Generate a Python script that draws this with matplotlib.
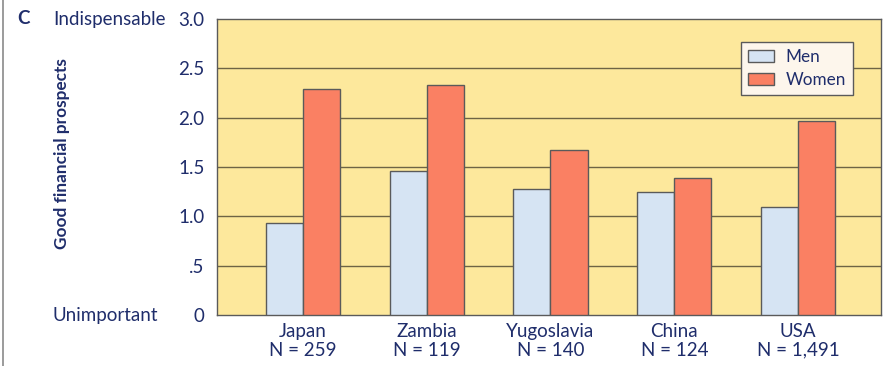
import matplotlib
matplotlib.use("Agg")
import matplotlib.pyplot as plt
import numpy as np

plt.rcParams['font.family'] = ['Lato', 'DejaVu Sans']

# Mean ratings per country (0 = unimportant, 3 = indispensable)
countries = ["Japan", "Zambia", "Yugoslavia", "China", "USA"]
sample_sizes = ["259", "119", "140", "124", "1,491"]
men = [0.93, 1.46, 1.28, 1.25, 1.09]
women = [2.29, 2.33, 1.67, 1.39, 1.97]
yticks = [0, 0.5, 1.0, 1.5, 2.0, 2.5, 3.0]
ytick_labels = ["0", ".5", "1.0", "1.5", "2.0", "2.5", "3.0"]

navy = "#1f2d6b"
edge = "#5a5a5a"
fs = 13.5

fig = plt.figure(figsize=(8.85, 3.66), dpi=100)
ax = fig.add_axes([0.2452, 0.1393, 0.7503, 0.8087])
ax.set_facecolor("#fde89c")

x = np.arange(len(countries))
w = 0.30
ax.bar(x - w / 2, men, w, color="#d6e4f3", edgecolor=edge, linewidth=1.0,
       label="Men", zorder=3)
ax.bar(x + w / 2, women, w, color="#fa8063", edgecolor=edge, linewidth=1.0,
       label="Women", zorder=3)

# horizontal guide lines behind the bars
for yv in yticks[1:-1]:
    ax.axhline(yv, color="#6e6445", linewidth=1.0, zorder=1)

ax.set_xlim(-0.694, 4.67)
ax.set_ylim(0, 3.0)
ax.set_yticks(yticks)
ax.set_yticklabels(ytick_labels)
ax.set_xticks(x)
ax.set_xticklabels([f"{c}\nN = {n}" for c, n in zip(countries, sample_sizes)],
                   linespacing=1.1)
ax.tick_params(axis="both", length=0, labelsize=fs, labelcolor=navy)
ax.tick_params(axis="y", pad=9)
ax.tick_params(axis="x", pad=6)
for s in ax.spines.values():
    s.set_color(edge)
    s.set_linewidth(1.0)

leg = ax.legend(loc="upper right", bbox_to_anchor=(0.958, 0.922),
                borderaxespad=0, fontsize=12.3, frameon=True, fancybox=False,
                handlelength=1.5, handleheight=0.7, borderpad=0.42,
                labelspacing=0.4, handletextpad=0.7)
leg.get_frame().set_facecolor("#fdf6ec")
leg.get_frame().set_edgecolor(edge)
leg.get_frame().set_alpha(1)
for t in leg.get_texts():
    t.set_color(navy)

fig.text(17 / 885, 1 - 19 / 366, "C", fontsize=fs, fontweight="bold",
         color=navy, ha="left", va="center")
fig.text(53 / 885, 1 - 19 / 366, "Indispensable", fontsize=fs,
         color=navy, ha="left", va="center")
fig.text(53 / 885, 1 - 316 / 366, "Unimportant", fontsize=fs,
         color=navy, ha="left", va="center")
fig.text(62 / 885, 1 - 154 / 366, "Good financial prospects", fontsize=12.4,
         fontweight="bold", color=navy, rotation=90, ha="center", va="center")

# thin frame line along the left edge
fig.add_artist(plt.Line2D([3 / 885, 3 / 885], [0, 1], color="#8a8a8a",
                          linewidth=1.2, transform=fig.transFigure))

fig.savefig("out.png", dpi=100)
